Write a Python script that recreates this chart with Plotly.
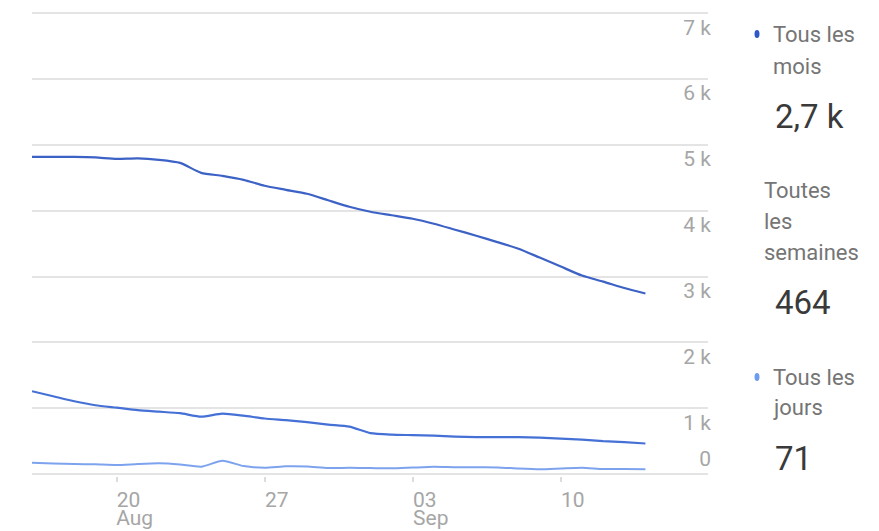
import pandas as pd
import plotly.graph_objects as go

# données (utilisateurs actifs, 16 août -> 14 sept.)
dates = pd.date_range("2023-08-16", periods=30, freq="D")
mois = [4818, 4818, 4818, 4810, 4788, 4795, 4773, 4727, 4576, 4530,
        4470, 4379, 4318, 4258, 4159, 4061, 3985, 3932, 3879, 3803,
        3712, 3621, 3523, 3424, 3288, 3152, 3015, 2924, 2826, 2742]
semaines = [1258, 1182, 1106, 1045, 1008, 970, 947, 924, 871, 917,
            886, 844, 818, 788, 750, 720, 621, 598, 591, 583,
            568, 561, 561, 561, 553, 538, 523, 500, 485, 464]
jours = [171, 159, 152, 147, 136, 152, 162, 144, 111, 202,
         121, 95, 117, 114, 91, 95, 91, 86, 98, 109,
         103, 102, 101, 83, 71, 83, 95, 76, 76, 71]

y_ticks = [1000, 2000, 3000, 4000, 5000, 6000, 7000]
y_labels = ["1 k", "2 k", "3 k", "4 k", "5 k", "6 k", "7 k"]
x_ticks = ["2023-08-20", "2023-08-27", "2023-09-03", "2023-09-10"]
x_labels = ["20", "27", "03", "10"]
month_ticks = ["2023-08-20", "2023-09-03"]
month_labels = ["Aug", "Sep"]

C_MOIS = "#3d62c6"
C_SEM = "#4570d6"
C_JOURS = "#7ea3ee"
GRID = "#e4e4e4"
TICK_GRAY = "#a6a6a6"
X_RANGE = ["2023-08-16", "2023-09-16 23:00"]
Y_RANGE = [-30, 7050]

# zone "paper" en pixels (marges : gauche 32, droite 0)
PL, PR, PT, PB = 32, 879, 10, 476


def px(x):
    return (x - PL) / (PR - PL)


def py(y):
    return (PB - y) / (PB - PT)


def fmt(v):
    if v >= 1000:
        return f"{v / 1000:.1f} k".replace(".", ",")
    return str(int(round(v)))


fig = go.Figure()
fig.add_trace(go.Scatter(x=dates, y=mois, mode="lines", name="Tous les mois",
                         line=dict(color=C_MOIS, width=2.2, shape="spline", smoothing=0.6)))
fig.add_trace(go.Scatter(x=dates, y=semaines, mode="lines", name="Toutes les semaines",
                         xaxis="x2",
                         line=dict(color=C_SEM, width=2.2, shape="spline", smoothing=0.6)))
fig.add_trace(go.Scatter(x=dates, y=jours, mode="lines", name="Tous les jours",
                         yaxis="y2",
                         line=dict(color=C_JOURS, width=2, shape="spline", smoothing=0.6)))

font = "Roboto, Arial, sans-serif"
x_dom = [0, px(708)]

fig.update_layout(
    width=879, height=531,
    margin=dict(l=PL, r=879 - PR, t=PT, b=531 - PB),
    paper_bgcolor="white", plot_bgcolor="white",
    showlegend=False,
    font=dict(family=font),
    xaxis=dict(range=X_RANGE, type="date", domain=x_dom, automargin=False,
               tickvals=x_ticks, ticktext=x_labels,
               showgrid=False, zeroline=False, showline=False,
               ticks="outside", ticklen=5, tickcolor="#dcdcdc", tickwidth=1.5,
               tickfont=dict(size=21, color=TICK_GRAY), ticklabelshift=12,
               ticklabelstandoff=0),
    xaxis2=dict(range=X_RANGE, type="date", overlaying="x", anchor="y", side="bottom",
                automargin=False, tickvals=month_ticks, ticktext=month_labels,
                showgrid=False, zeroline=False, showline=False, ticks="",
                tickfont=dict(size=21, color=TICK_GRAY), ticklabelshift=18,
                ticklabelstandoff=27),
    yaxis=dict(range=Y_RANGE, side="left", anchor="free", position=px(711),
               automargin=False, tickvals=[0] + y_ticks, ticktext=[""] + y_labels,
               ticklabelshift=14, ticklabelstandoff=0,
               showgrid=True, gridcolor=GRID, gridwidth=1.6,
               zeroline=False, showline=False, ticks="",
               tickfont=dict(size=21, color=TICK_GRAY)),
    yaxis2=dict(range=Y_RANGE, side="left", overlaying="y", anchor="free", position=px(711),
                automargin=False, tickvals=[0], ticktext=["0"],
                ticklabelshift=-15, ticklabelstandoff=0,
                showgrid=False, zeroline=False, showline=False, ticks="",
                tickfont=dict(size=21, color=TICK_GRAY)),
)

# petite coupure des lignes de grille entre la courbe et les étiquettes
fig.add_shape(type="rect", xref="paper", yref="paper", layer="between",
              x0=px(645), x1=px(650), y0=0, y1=1,
              fillcolor="white", line=dict(width=0))

# légende personnalisée à droite
LEG_GRAY = "#757575"
VAL_COLOR = "#3a3a3a"
legend_lines = [
    ("Tous les", 771, 34), ("mois", 771, 66),
    ("Toutes", 762, 190), ("les", 762, 221), ("semaines", 762, 252),
    ("Tous les", 771, 377), ("jours", 771, 408),
]
for txt, x, y in legend_lines:
    fig.add_annotation(text=txt, xref="paper", yref="paper", x=px(x), y=py(y),
                       xanchor="left", yanchor="middle", showarrow=False,
                       font=dict(size=22, color=LEG_GRAY, family=font))

values = [(fmt(mois[-1]), 116), (fmt(semaines[-1]), 302), (fmt(jours[-1]), 458)]
for txt, y in values:
    fig.add_annotation(text=txt, xref="paper", yref="paper", x=px(773), y=py(y),
                       xanchor="left", yanchor="middle", showarrow=False,
                       font=dict(size=33, color=VAL_COLOR, family=font))

for color, y in [("#2f58c8", 34), ("#6f9cef", 377)]:
    fig.add_shape(type="circle", xref="paper", yref="paper",
                  x0=px(754.5), x1=px(759.5), y0=py(y - 4), y1=py(y + 4),
                  fillcolor=color, line=dict(width=0))

# la marge par défaut du <body> décale la figure de 8 px
fig.write_html("out.html", config={"displayModeBar": False},
               post_script="document.body.style.margin='0';")
